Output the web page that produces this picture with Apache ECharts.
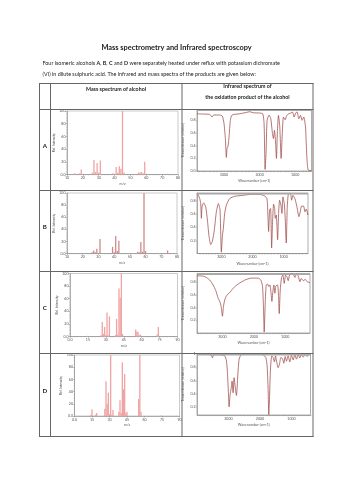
<!DOCTYPE html>
<html>
<head>
<meta charset="utf-8">
<script src="https://cdn.jsdelivr.net/npm/echarts@6/dist/echarts.min.js"></script>
<style>
  html, body { margin: 0; padding: 0; background: #fff; }
  #main { width: 353px; height: 500px; }
</style>
</head>
<body>
<div id="main"></div>
<script>
// mass spectra of the alcohols: [m/z, relative intensity]
const massA = [[15,2],[18,2],[19,8],[26,3],[27,23],[28,4],[29,18],[30,3],[31,22],[39,2],[41,12],[42,3],[43,13],[44,9],[45,100],[46,3],[55,3],[56,3],[57,4],[58,2],[59,20],[60,1],[73,1],[74,1]];
const massB = [[15,1],[26,2],[27,5],[28,2],[29,8],[31,24],[39,11],[40,2],[41,29],[42,4],[43,21],[55,3],[56,2],[57,19],[58,3],[59,100],[60,4],[74,5]];
const massC = [[15,1],[26,2],[27,23],[28,4],[29,15],[30,2],[31,38],[32,2],[33,32],[38,2],[39,28],[40,3],[41,76],[42,62],[43,100],[44,4],[55,11],[56,8],[57,7],[58,2],[59,3],[73,3],[74,15]];
const massD = [[14,2],[15,11],[18,2],[19,5],[26,12],[27,57],[28,20],[29,38],[30,3],[31,100],[32,2],[33,10],[38,7],[39,26],[40,5],[41,88],[42,44],[43,69],[44,5],[45,7],[55,28],[56,100],[57,7],[74,1]];

// infrared spectra of the oxidation products: [wavenumber, transmittance]
const irA = [[3761,0.903],[3592,0.898],[3404,0.893],[3338,0.851],[3291,0.883],[3122,0.883],[3047,0.867],[3000,0.747],[2962,0.512],[2934,0.214],[2915,0.355],[2887,0.392],[2859,0.538],[2822,0.799],[2775,0.883],[2559,0.903],[2371,0.924],[2277,0.935],[2183,0.919],[1995,0.914],[1911,0.903],[1873,0.747],[1845,0.026],[1817,0.303],[1789,0.799],[1732,0.883],[1685,0.825],[1638,0.590],[1610,0.512],[1582,0.642],[1554,0.486],[1526,0.198],[1498,0.642],[1469,0.877],[1432,0.695],[1394,0.198],[1366,0.538],[1329,0.851],[1282,0.809],[1235,0.877],[1178,0.903],[1122,0.914],[1075,0.930],[1028,0.851],[981,0.919],[944,0.930],[897,0.825],[850,0.877],[803,0.799],[756,0.851],[709,0.695],[671,0.225],[634,0.016],[540,0.005]];
const irB = [[3781,0.91],[3738,0.885],[3696,0.835],[3663,0.76],[3642,0.535],[3621,0.71],[3567,0.77],[3503,0.71],[3449,0.51],[3396,0.26],[3342,0.135],[3289,0.185],[3225,0.36],[3161,0.635],[3096,0.76],[3043,0.66],[3000,0.02],[2968,0.26],[2936,0.385],[2893,0.61],[2840,0.735],[2733,0.835],[2572,0.87],[2305,0.885],[2037,0.90],[1770,0.90],[1609,0.875],[1534,0.835],[1502,0.56],[1481,0.335],[1449,0.66],[1417,0.685],[1384,0.085],[1352,0.51],[1320,0.75],[1288,0.685],[1267,0.535],[1235,0.585],[1192,0.21],[1160,0.61],[1128,0.81],[1085,0.735],[1053,0.61],[1021,0.86],[978,0.76],[946,0.51],[914,0.16],[882,0.71],[849,0.90],[807,0.92],[764,0.885],[743,0.81],[700,0.885],[636,0.835],[571,0.71],[507,0.56],[464,0.635],[421,0.72],[357,0.72],[314,0.635],[272,0.675],[218,0.585]];
const irC = [[3809,0.899],[3617,0.894],[3511,0.873],[3404,0.832],[3298,0.755],[3213,0.667],[3138,0.548],[3085,0.496],[3043,0.419],[3000,0.264],[2968,0.419],[2926,0.522],[2872,0.584],[2819,0.615],[2766,0.636],[2660,0.703],[2500,0.770],[2287,0.832],[2074,0.863],[1862,0.863],[1776,0.832],[1723,0.729],[1691,0.367],[1670,0.016],[1638,0.470],[1606,0.755],[1564,0.770],[1521,0.729],[1489,0.755],[1457,0.651],[1425,0.496],[1394,0.651],[1362,0.755],[1330,0.625],[1298,0.739],[1244,0.755],[1213,0.574],[1191,0.305],[1159,0.677],[1117,0.873],[1074,0.910],[1032,0.780],[989,0.910],[947,0.884],[904,0.822],[861,0.915],[798,0.935],[744,0.925],[691,0.873],[638,0.935],[585,0.894],[532,0.806],[489,0.858],[425,0.822],[361,0.842],[298,0.806],[213,0.791]];
const irD = [[3995,0.997],[3804,0.997],[3645,0.997],[3540,0.982],[3508,0.942],[3466,0.987],[3275,0.987],[3116,0.972],[3063,0.896],[3032,0.719],[3000,0.415],[2979,0.203],[2947,0.390],[2915,0.476],[2884,0.592],[2852,0.415],[2820,0.643],[2788,0.516],[2746,0.375],[2704,0.668],[2661,0.922],[2587,0.992],[2429,0.995],[2111,0.997],[1900,0.987],[1815,0.947],[1773,0.820],[1741,0.466],[1720,0.086],[1699,0.314],[1667,0.770],[1625,0.972],[1582,0.947],[1540,0.881],[1508,0.972],[1466,0.871],[1424,0.795],[1381,0.846],[1339,0.947],[1286,0.932],[1244,0.861],[1201,0.962],[1159,0.891],[1106,0.972],[1053,0.881],[1000,0.982],[947,0.911],[894,0.992],[842,0.922],[789,0.992],[736,0.942],[683,0.997],[630,0.952],[567,0.995],[503,0.962],[440,0.997],[398,0.982]];

const rowLabels = ["A", "B", "C", "D"];
const irTickLabels = [3000, 2000, 1000];

var dom = document.getElementById("main");
var myChart = echarts.init(dom, null, { renderer: "canvas" });

var font = "Lato, 'Open Sans', sans-serif";
var tiny = { fontSize: 3.6, color: "#555", fontFamily: font, margin: 1.5 };

// plot areas, in row order: mass spectrum then infrared
var massGrids = [
  { left: 67, top: 111, width: 111, height: 63.5 },
  { left: 67, top: 193, width: 110, height: 60.5 },
  { left: 70, top: 273.5, width: 107.5, height: 63 },
  { left: 74.5, top: 355, width: 105, height: 61 },
];
var irGrids = [
  { left: 197, top: 109.5, width: 114.5, height: 61.5 },
  { left: 197, top: 193, width: 111, height: 60.5 },
  { left: 197, top: 273.5, width: 113, height: 59.5 },
  { left: 197, top: 354, width: 113.5, height: 61 },
];
var massX = [
  { min: 10, max: 80, interval: 10 },
  { min: 10, max: 80, interval: 10 },
  { min: 0, max: 90, interval: 15 },
  { min: 0, max: 90, interval: 15 },
];
var irX = [
  { min: 540, max: 3760 },
  { min: 215, max: 3783 },
  { min: 211, max: 3811 },
  { min: 397, max: 3997 },
];
var irY = [
  { min: 0, max: 0.97, labels: [0, 0.2, 0.4, 0.6, 0.8] },
  { min: 0, max: 0.92, labels: [0.2, 0.4, 0.6, 0.8] },
  { min: 0, max: 0.935, labels: [0.2, 0.4, 0.6, 0.8] },
  { min: 0.08, max: 1.0, labels: [0.2, 0.4, 0.6, 0.8, 1] },
];
var massData = [massA, massB, massC, massD];
var irData = [irA, irB, irC, irD];
var barColors = ["#f0a3a3", "#cf8a8a", "#f0a3a3", "#f0a3a3"];

var irMinor = [];
for (var w = 300; w <= 3900; w += 100) irMinor.push(w);

var grid = [], xAxis = [], yAxis = [], series = [];
for (var i = 0; i < 4; i++) {
  grid.push(Object.assign({ show: true, borderColor: "#bdbdbd", borderWidth: 0.8, backgroundColor: "#fff" }, massGrids[i]));
  grid.push(Object.assign({ show: true, borderColor: "#9a9a9a", borderWidth: 0.8, backgroundColor: "#fff" }, irGrids[i]));
  var gm = 2 * i, gi = 2 * i + 1;

  xAxis.push({
    type: "value", gridIndex: gm, min: massX[i].min, max: massX[i].max, interval: massX[i].interval,
    name: "m/z", nameLocation: "middle", nameGap: 7,
    nameTextStyle: { fontSize: 3.6, color: "#555", fontFamily: font },
    axisLine: { lineStyle: { color: "#888", width: 0.6 } },
    axisTick: { length: 1.5, lineStyle: { color: "#888", width: 0.5 } },
    minorTick: { show: true, splitNumber: 5, length: 1, lineStyle: { color: "#999", width: 0.4 } },
    axisLabel: Object.assign({ formatter: function (v) { return v === 0 ? "0.0" : String(v); } }, tiny),
    splitLine: { show: false },
  });
  yAxis.push({
    type: "value", gridIndex: gm, min: 0, max: 100, interval: 20,
    name: "Rel. Intensity", nameLocation: "middle", nameGap: 11,
    nameTextStyle: { fontSize: 3.4, color: "#555", fontFamily: font },
    axisLine: { show: true, lineStyle: { color: "#888", width: 0.6 } },
    axisTick: { show: true, length: 1.5, lineStyle: { color: "#888", width: 0.5 } },
    minorTick: { show: true, splitNumber: 4, length: 1, lineStyle: { color: "#999", width: 0.4 } },
    axisLabel: Object.assign({ formatter: function (v) { return v === 0 ? "0.0" : String(v); } }, tiny),
    splitLine: { show: false },
  });
  xAxis.push({
    type: "value", gridIndex: gi, inverse: true, min: irX[i].min, max: irX[i].max,
    name: "Wavenumber (cm-1)", nameLocation: "middle", nameGap: 8,
    nameTextStyle: { fontSize: 3.6, color: "#555", fontFamily: font },
    axisLine: { lineStyle: { color: "#888", width: 0.6 } },
    axisTick: { length: 1.2, customValues: irMinor, lineStyle: { color: "#777", width: 0.4 } },
    axisLabel: Object.assign({ customValues: irTickLabels, formatter: function (v) { return String(v); } }, tiny),
    splitLine: { show: false },
  });
  yAxis.push({
    type: "value", gridIndex: gi, min: irY[i].min, max: irY[i].max,
    name: "Transmittance (relative)", nameLocation: "middle", nameGap: 13,
    nameTextStyle: { fontSize: 3.4, color: "#555", fontFamily: font },
    axisLine: { show: true, lineStyle: { color: "#888", width: 0.6 } },
    axisTick: { show: true, length: 1.2, customValues: irY[i].labels, lineStyle: { color: "#777", width: 0.4 } },
    axisLabel: Object.assign({ customValues: irY[i].labels, formatter: function (v) { return v === 0 ? "0.0" : (v === 1 ? "1" : v.toFixed(1)); } }, tiny),
    splitLine: { show: false },
  });

  series.push({
    type: "bar", xAxisIndex: gm, yAxisIndex: gm, barWidth: 1.3,
    itemStyle: { color: barColors[i] }, data: massData[i], silent: true,
  });
  series.push({
    type: "line", xAxisIndex: gi, yAxisIndex: gi, showSymbol: false, smooth: 0.2,
    lineStyle: { color: "#9c4a48", width: 0.75 }, data: irData[i], silent: true,
  });
}

// table frame and text
var graphic = [];
function hline(y, x1, x2) {
  graphic.push({ type: "line", shape: { x1: x1, y1: y, x2: x2, y2: y }, style: { stroke: "#666", lineWidth: 1 }, z: 10 });
}
function vline(x, y1, y2) {
  graphic.push({ type: "line", shape: { x1: x, y1: y1, x2: x, y2: y2 }, style: { stroke: "#666", lineWidth: 1 }, z: 10 });
}
function txt(x, y, text, size, weight, align) {
  graphic.push({
    type: "text", x: x, y: y, z: 10,
    style: { text: text, fill: "#222", font: weight + " " + size + "px " + font, align: align || "center", verticalAlign: "middle" },
  });
}
var rowLines = [83.5, 109.5, 190.5, 271.5, 353.5, 436.5];
rowLines.forEach(function (y) { hline(y, 39, 313.5); });
[39.5, 50.5, 182, 313].forEach(function (x) { vline(x, 83, 437); });

// top band on the infrared plots
irGrids.forEach(function (g) {
  graphic.push({ type: "rect", shape: { x: g.left, y: g.top, width: g.width, height: 1.6 }, style: { fill: "#a8a8a8" }, z: 9 });
});

txt(176.5, 47.5, "Mass spectrometry and Infrared spectroscopy", 7.4, "bold");
graphic.push({
  type: "text", x: 42.5, y: 63.5, z: 10,
  style: {
    text: "Four isomeric alcohols {b|A}, {b|B}, {b|C} and {b|D} were separately heated under reflux with potassium dichromate",
    fill: "#222", font: "5.4px " + font, verticalAlign: "middle",
    rich: { b: { fontWeight: "bold", fontSize: 5.4, fontFamily: font, fill: "#222" } },
  },
});
txt(42.5, 74, "(VI) in dilute sulphuric acid. The infrared and mass spectra of the products are given below:", 5.4, "normal", "left");
txt(116, 89, "Mass spectrum of alcohol", 5.3, "bold");
txt(247.5, 86.5, "Infrared spectrum of", 5.3, "bold");
txt(247.5, 97.5, "the oxidation product of the alcohol", 5.3, "bold");
var labelY = [146, 227, 308, 391];
rowLabels.forEach(function (l, k) { txt(44.8, labelY[k], l, 6.2, "bold"); });

var option = {
  backgroundColor: "#fff",
  animation: false,
  grid: grid,
  xAxis: xAxis,
  yAxis: yAxis,
  series: series,
  graphic: graphic,
};
if (option && typeof option === "object") {
  myChart.setOption(option);
}
window.addEventListener("resize", myChart.resize);
</script>
</body>
</html>
